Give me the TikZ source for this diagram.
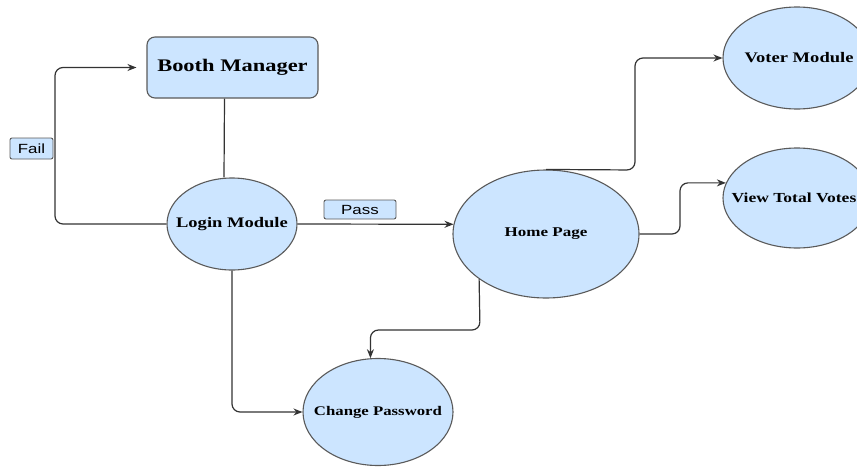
\documentclass[tikz,border=0pt]{standalone}
\usepackage{fontspec}
\setmainfont[FakeStretch=1.27]{Liberation Serif}
\newfontfamily\lblfont[FakeStretch=1.27]{Liberation Sans}
\usetikzlibrary{shapes.geometric,arrows.meta}
\definecolor{fillblue}{HTML}{CCE5FF}
\definecolor{edgegray}{HTML}{5A5A5A}
\definecolor{linegray}{HTML}{333333}
\begin{document}
\begin{tikzpicture}[x=1pt,y=-1pt,
  proc/.style={ellipse,draw=edgegray,fill=fillblue,line width=1.1pt,inner sep=0pt},
  ptext/.style={font=\bfseries\fontsize{14.6}{16}\selectfont,inner sep=0pt},
  boxnode/.style={rectangle,rounded corners=8pt,draw=edgegray,fill=fillblue,line width=1.1pt,inner sep=0pt,font=\bfseries\fontsize{17.7}{20}\selectfont},
  tag/.style={rectangle,rounded corners=2pt,draw=edgegray,fill=fillblue,line width=0.9pt,inner sep=0pt,font=\lblfont\fontsize{13.3}{15}\selectfont},
  conn/.style={draw=linegray,line width=1.2pt,rounded corners=8pt},
  arr/.style={conn,-{Stealth[length=9pt,width=7pt]}}]
\useasboundingbox (0,0) rectangle (857,466);
\clip (0,0) rectangle (857,466);
\node[boxnode,minimum width=171pt,minimum height=61pt] (booth) at (232.5,67.5) {Booth Manager};
\node[proc,minimum width=130pt,minimum height=92pt] (login) at (232,224) {};
\node[ptext] (logint) at (login.center) {Login Module};
\node[proc,minimum width=186pt,minimum height=128pt] (home) at (546,234) {};
\node[ptext,font=\bfseries\fontsize{13.4}{15}\selectfont] (homet) at (home.center) {Home Page};
\node[proc,minimum width=148pt,minimum height=102pt] (voter) at (797,58) {};
\node[ptext] (votert) at (799,58) {Voter Module};
\node[proc,minimum width=148pt,minimum height=100pt] (view) at (797,198) {};
\node[ptext,font=\bfseries\fontsize{13.8}{15}\selectfont] (viewt) at (794,198) {View Total Votes};
\node[proc,minimum width=150pt,minimum height=107pt] (change) at (378,412) {};
\node[ptext,font=\bfseries\fontsize{13.2}{15}\selectfont] (changet) at (change.center) {Change Password};
\node[tag,minimum width=43pt,minimum height=21pt] (fail) at (31.5,148.5) {Fail};
\node[tag,minimum width=72pt,minimum height=19pt] (pass) at (360,209.5) {Pass};
\coordinate (failx) at (55,224);
\coordinate (vx) at (635,170);
\coordinate (tx) at (680,234);
\coordinate (cx) at (480,330);
\draw[conn] ([xshift=-8pt]booth.south) -- ([xshift=-8pt]login.north);
\draw[arr,shorten >=10pt] (login.west) -- (failx) |- (booth.west);
\draw[arr] (login.east) -- (home.174);
\draw[arr] (home.north) -- (vx) |- (voter.west);
\draw[arr] (home.east) -- (tx) |- (view.168);
\draw[arr] (home.214) -- (cx) -| (change.98);
\draw[arr] (login.south) |- (change.west);
\end{tikzpicture}
\end{document}
